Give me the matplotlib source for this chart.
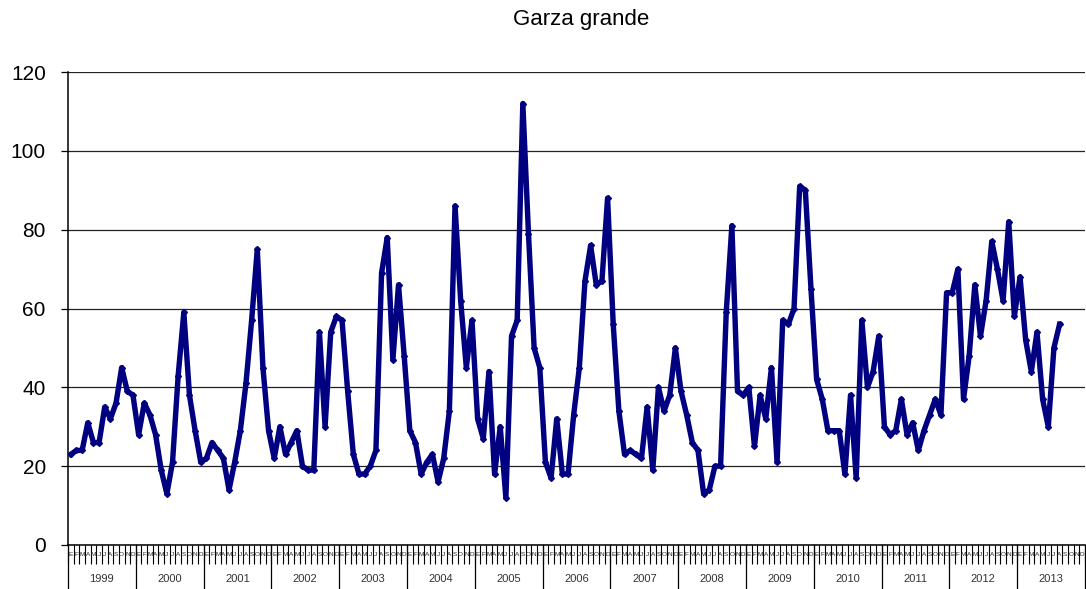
import numpy as np
import matplotlib
matplotlib.use("Agg")
import matplotlib.pyplot as plt
import matplotlib.transforms as mtransforms

plt.rcParams['font.family'] = ['Liberation Sans', 'DejaVu Sans']

#%% data: monthly values Jan 1999 .. Aug 2013
years = [str(y) for y in range(1999, 2014)]
months = ['E', 'F', 'M', 'A', 'M', 'J', 'J', 'A', 'S', 'O', 'N', 'D']

v1999 = [23, 24, 24, 31, 26, 26, 35, 32, 36, 45, 39, 38]
v2000 = [28, 36, 33, 28, 19, 13, 21, 43, 59, 38, 29, 21]
v2001 = [22, 26, 24, 22, 14, 21, 29, 41, 57, 75, 45, 29]
v2002 = [22, 30, 23, 26, 29, 20, 19, 19, 54, 30, 54, 58]
v2003 = [57, 39, 23, 18, 18, 20, 24, 69, 78, 47, 66, 48]
v2004 = [29, 26, 18, 21, 23, 16, 22, 34, 86, 62, 45, 57]
v2005 = [32, 27, 44, 18, 30, 12, 53, 57, 112, 79, 50, 45]
v2006 = [21, 17, 32, 18, 18, 33, 45, 67, 76, 66, 67, 88]
v2007 = [56, 34, 23, 24, 23, 22, 35, 19, 40, 34, 38, 50]
v2008 = [39, 33, 26, 24, 13, 14, 20, 20, 59, 81, 39, 38]
v2009 = [40, 25, 38, 32, 45, 21, 57, 56, 60, 91, 90, 65]
v2010 = [42, 37, 29, 29, 29, 18, 38, 17, 57, 40, 44, 53]
v2011 = [30, 28, 29, 37, 28, 31, 24, 29, 33, 37, 33, 64]
v2012 = [64, 70, 37, 48, 66, 53, 62, 77, 70, 62, 82, 58]
v2013 = [68, 52, 44, 54, 37, 30, 50, 56]

values = (v1999 + v2000 + v2001 + v2002 + v2003 + v2004 + v2005 + v2006
          + v2007 + v2008 + v2009 + v2010 + v2011 + v2012 + v2013)
n_cat = len(years) * 12

#%%
W, H = 1086, 589
fig = plt.figure(figsize=(W / 100, H / 100), dpi=100)
ax = fig.add_axes([68 / W, (H - 545) / H, (1085 - 68) / W, (545 - 72) / H])

x = np.arange(len(values)) + 0.5
ax.plot(x, values, color='#000080', lw=3.9, marker='D', markersize=3,
        solid_joinstyle='round', zorder=3)

ax.set_xlim(0, n_cat)
ax.set_ylim(0, 120)
ax.set_yticks(np.arange(0, 121, 20))
ax.yaxis.grid(True, color='#222222', lw=0.9)
ax.set_axisbelow(True)
ax.tick_params(axis='y', labelsize=15, length=5, width=0.9, pad=11)

for s in ['top', 'right']:
    ax.spines[s].set_visible(False)
ax.spines['left'].set_linewidth(1.1)
ax.spines['bottom'].set_linewidth(1.1)

# month ticks at every category boundary
ax.set_xticks(np.arange(0, n_cat + 1))
ax.set_xticklabels([])
ax.tick_params(axis='x', length=14, width=0.8, direction='out')

trans = mtransforms.blended_transform_factory(ax.transData, fig.transFigure)

# month letters (squeezed between the month ticks)
for i in range(n_cat):
    ax.text(i + 0.5, (H - 554) / H, months[i % 12], transform=trans,
            ha='center', va='center', fontsize=4.6, color='#222222',
            clip_on=False)

# year separators and labels
for k in range(len(years) + 1):
    ax.plot([k * 12, k * 12], [(H - 545) / H, 0], transform=trans,
            color='black', lw=0.9, clip_on=False)
for k, yr in enumerate(years):
    ax.text(k * 12 + 6, (H - 579) / H, yr, transform=trans,
            ha='center', va='center', fontsize=8, color='#333333',
            clip_on=False)

fig.text(581 / W, (H - 20) / H, 'Garza grande', ha='center', va='center',
         fontsize=16)

fig.savefig('out.png', dpi=100)
